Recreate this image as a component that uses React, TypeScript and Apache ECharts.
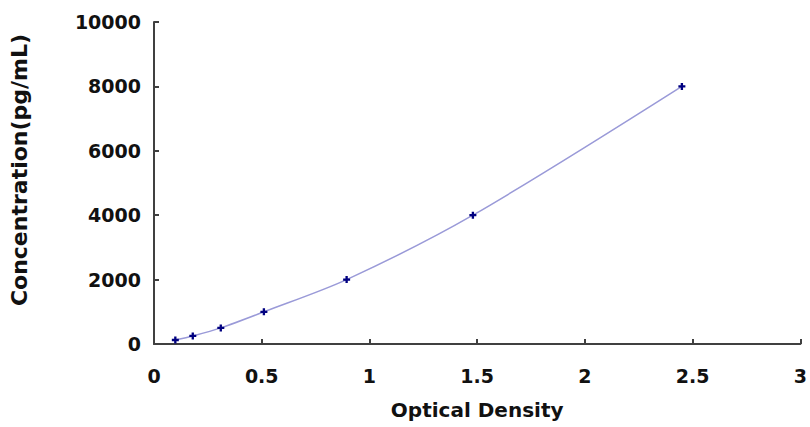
import React, { useEffect, useRef } from "react";
import * as echarts from "echarts";

const opticalDensity = [0.099, 0.18, 0.31, 0.51, 0.894, 1.48, 2.45];
const concentration = [125, 250, 500, 1000, 2000, 4000, 8000];
const xTicks = { min: 0, max: 3, interval: 0.5 };
const yTicks = { min: 0, max: 10000, interval: 2000 };

export default function App() {
  const ref = useRef<HTMLDivElement>(null);
  useEffect(() => {
    if (!ref.current) return;
    const chart = echarts.init(ref.current, undefined, { renderer: "svg" });
    const font = "DejaVu Sans";
    chart.setOption({
      animation: false,
      backgroundColor: "#ffffff",
      grid: { left: 151, right: 1, top: 22, bottom: 83, containLabel: false },
      xAxis: {
        type: "value",
        min: xTicks.min,
        max: xTicks.max,
        interval: xTicks.interval,
        name: "Optical Density",
        nameLocation: "middle",
        nameGap: 56,
        nameTextStyle: { fontFamily: font, fontWeight: "bold", fontSize: 20, color: "#111" },
        axisLine: { show: true, lineStyle: { color: "#404040", width: 2 } },
        axisTick: { show: true, inside: true, length: 5, lineStyle: { color: "#404040", width: 2 } },
        axisLabel: {
          fontFamily: font, fontWeight: "bold", fontSize: 19, color: "#111", margin: 22, showMaxLabel: true,
          formatter: (v: number) => String(v),
        },
        splitLine: { show: false },
      },
      yAxis: {
        type: "value",
        min: yTicks.min,
        max: yTicks.max,
        interval: yTicks.interval,
        name: "Concentration(pg/mL)",
        nameLocation: "middle",
        nameGap: 124,
        nameRotate: 90,
        nameTextStyle: { fontFamily: font, fontWeight: "bold", fontSize: 22, color: "#111", padding: [0, 0, 0, 26] },
        axisLine: { show: true, lineStyle: { color: "#404040", width: 2 } },
        axisTick: { show: true, inside: true, length: 5, lineStyle: { color: "#404040", width: 2 } },
        axisLabel: {
          fontFamily: font, fontWeight: "bold", fontSize: 19, color: "#111", margin: 13,
          formatter: (v: number) => String(v),
        },
        splitLine: { show: false },
      },
      series: [
        {
          type: "line",
          data: opticalDensity.map((x, i) => [x, concentration[i]]),
          smooth: 0.3,
          symbol: "path://M2,0H4V2H6V4H4V6H2V4H0V2H2Z",
          symbolSize: 7,
          itemStyle: { color: "#000080" },
          lineStyle: { color: "#9a9ad8", width: 1.5 },
        },
      ],
    });
    return () => chart.dispose();
  }, []);
  return (
    <div
      ref={ref}
      style={{ position: "fixed", left: 0, top: 0, width: 810, height: 427 }}
    />
  );
}
